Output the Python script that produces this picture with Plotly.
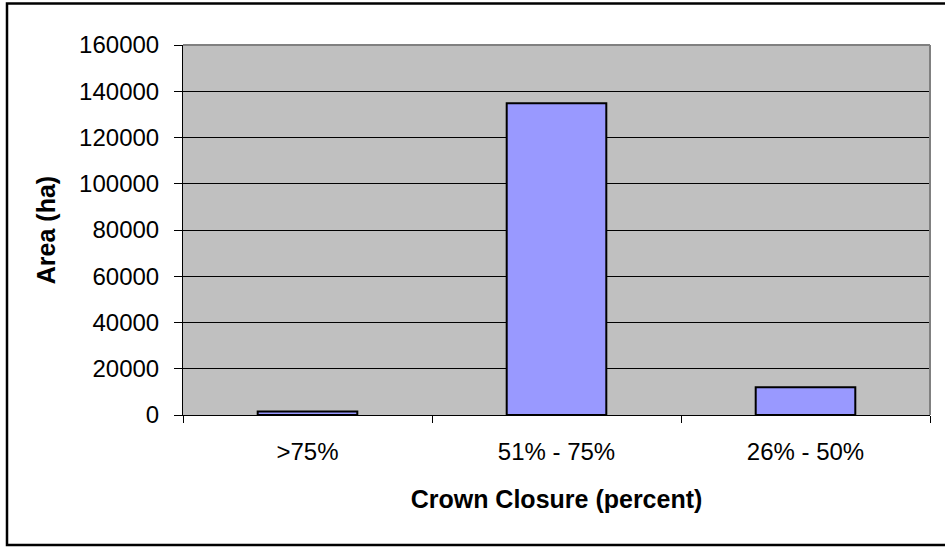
import plotly.graph_objects as go

categories = [">75%", "51% - 75%", "26% - 50%"]
area_ha = [1500, 134800, 12000]
y_ticks = [0, 20000, 40000, 60000, 80000, 100000, 120000, 140000, 160000]

W, H = 945, 550
L, R, T, B = 183, 15, 45, 135
pw, ph = W - L - R, H - T - B

def px_x(p):
    return (p - L) / pw

def px_y(p):
    return (H - B - p) / ph

fig = go.Figure()
fig.add_trace(go.Bar(
    x=categories, y=area_ha,
    marker=dict(color="#9999FF", line=dict(color="black", width=2)),
    width=0.4,
))

font = "Liberation Sans, Arial, sans-serif"
fig.update_layout(
    width=W, height=H,
    margin=dict(l=L, r=R, t=T, b=B),
    paper_bgcolor="white",
    plot_bgcolor="#C0C0C0",
    showlegend=False,
    font=dict(family=font, size=24, color="black"),
    xaxis=dict(
        type="category",
        tickson="boundaries",
        ticks="outside", ticklen=7, tickcolor="black", tickwidth=1,
        showline=True, linecolor="black", linewidth=1,
        showgrid=False,
        tickfont=dict(size=24),
        ticklabelstandoff=15,
        title=dict(text="<b>Crown Closure (percent)</b>", font=dict(size=25), standoff=26),
        range=[-0.5, 2.5],
    ),
    yaxis=dict(
        range=[0, 160000],
        tickvals=y_ticks,
        ticktext=[str(v) for v in y_ticks],
        ticks="outside", ticklen=8, tickcolor="black", tickwidth=1,
        showline=True, linecolor="black", linewidth=1,
        showgrid=True, gridcolor="black", gridwidth=1,
        zeroline=False,
        tickfont=dict(size=24),
        ticklabelstandoff=10,
        title=dict(text="<b>Area (ha)</b>", font=dict(size=25), standoff=16),
    ),
    shapes=[
        dict(type="line", xref="paper", yref="paper", x0=0, x1=1, y0=1, y1=1,
             line=dict(color="#808080", width=2)),
        dict(type="line", xref="paper", yref="paper", x0=1, x1=1, y0=0, y1=1,
             line=dict(color="#808080", width=2)),
        dict(type="rect", xref="paper", yref="paper",
             x0=px_x(7), x1=px_x(950), y0=px_y(545), y1=px_y(3.5),
             line=dict(color="black", width=2.5), layer="above"),
    ],
)

fig.write_html("out.html")
